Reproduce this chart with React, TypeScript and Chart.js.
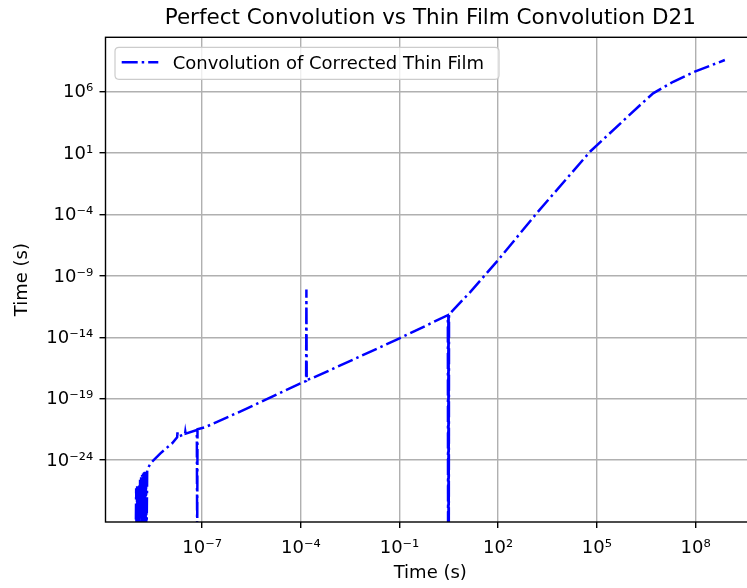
import React, { useEffect, useRef } from 'react';
import { Chart, registerables } from 'chart.js';

Chart.register(...registerables);

// ---- data ----
const xValues = [
  // noisy cluster near 1e-9
  9.55e-10, 9.9e-10, 1.02e-9, 1.06e-9, 1.1e-9, 1.13e-9, 1.17e-9, 1.22e-9, 1.26e-9, 1.3e-9, 1.35e-9, 1.4e-9,
  1.44e-9, 1.5e-9, 1.55e-9, 1.6e-9, 1.66e-9, 1.72e-9, 1.78e-9, 1.84e-9, 1.9e-9, 1.97e-9, 2.04e-9, 2.14e-9,
  // rising part with small hooks and the drop near 1e-7
  2.69e-9, 5.4e-9, 1.23e-8, 1.74e-8, 1.78e-8, 1.82e-8, 3.02e-8, 3.09e-8, 3.16e-8, 6.9e-8, 7.08e-8, 7.24e-8,
  // slow rise with the spike near 1.5e-4
  1.26e-7, 2.34e-6, 1e-4, 1.45e-4, 1.48e-4, 1.51e-4, 2.4e-4, 0.1,
  // noisy drop near 3 s
  2.95, 3.0, 3.05, 3.09, 3.12, 3.15, 3.2,
  // steep rise and bend
  14.1, 100, 1480, 6.17e4, 2.04e6, 5.13e6, 2.09e7, 9.5e7, 7.76e8,
];
const yValues = [
  1e-31, 5e-27, 1e-31, 8e-27, 1e-31, 6e-27, 1e-31, 1e-26, 1e-31, 2.5e-26, 1e-31, 4e-26,
  1e-31, 6e-26, 1e-31, 8e-26, 1e-31, 1e-25, 1e-31, 1.1e-25, 1e-31, 1.2e-25, 1e-31, 1.55e-25,
  5.4e-25, 3.5e-24, 2.3e-23, 7.1e-23, 1.8e-22, 7.9e-23, 1.26e-22, 2e-22, 1.4e-22, 2.75e-22, 1e-31, 3.2e-22,
  4.8e-22, 1.6e-20, 1.8e-18, 2.75e-18, 7.9e-11, 3.3e-18, 5e-18, 8.1e-15,
  6.3e-13, 1e-31, 6.4e-13, 1e-31, 6.6e-13, 1e-31, 7.1e-13,
  4.8e-11, 1.95e-8, 1.26e-4, 12.9, 7.9e4, 7.4e5, 6.46e6, 4.27e7, 3.8e8,
];
const xTickValues = [1e-7, 1e-4, 1e-1, 1e2, 1e5, 1e8];
const yTickValues = [1e-24, 1e-19, 1e-14, 1e-9, 1e-4, 1e1, 1e6];
const seriesLabel = 'Convolution of Corrected Thin Film';
const titleText = 'Perfect Convolution vs Thin Film Convolution D21';
const xAxisTitle = 'Time (s)';
const yAxisTitle = 'Time (s)';

const SUP: Record<string, string> = {
  '-': '\u207B', '0': '\u2070', '1': '\u00B9', '2': '\u00B2', '3': '\u00B3', '4': '\u2074',
  '5': '\u2075', '6': '\u2076', '7': '\u2077', '8': '\u2078', '9': '\u2079',
};
function powLabel(v: number): string {
  const e = Math.round(Math.log10(v));
  return '10' + String(e).split('').map((c) => SUP[c] || c).join('');
}

const LINE_DASH = [16, 4, 2.5, 4];

const framePlugin = {
  id: 'frameAndLegend',
  afterDatasetsDraw(chart: any) {
    const { ctx, chartArea: a } = chart;
    ctx.save();
    // spines
    ctx.strokeStyle = '#000';
    ctx.lineWidth = 1.4;
    ctx.setLineDash([]);
    ctx.strokeRect(a.left, a.top, a.right - a.left, a.bottom - a.top);

    // legend box inside the axes (upper left)
    const ds = chart.data.datasets[0];
    const bx = a.left + 9.5;
    const by = a.top + 10;
    const bw = 384;
    const bh = 32;
    const r = 4;
    ctx.beginPath();
    ctx.moveTo(bx + r, by);
    ctx.lineTo(bx + bw - r, by);
    ctx.quadraticCurveTo(bx + bw, by, bx + bw, by + r);
    ctx.lineTo(bx + bw, by + bh - r);
    ctx.quadraticCurveTo(bx + bw, by + bh, bx + bw - r, by + bh);
    ctx.lineTo(bx + r, by + bh);
    ctx.quadraticCurveTo(bx, by + bh, bx, by + bh - r);
    ctx.lineTo(bx, by + r);
    ctx.quadraticCurveTo(bx, by, bx + r, by);
    ctx.closePath();
    ctx.fillStyle = 'rgba(255,255,255,0.8)';
    ctx.fill();
    ctx.strokeStyle = '#cccccc';
    ctx.lineWidth = 1.2;
    ctx.stroke();

    ctx.beginPath();
    ctx.setLineDash(ds.borderDash);
    ctx.lineDashOffset = 0;
    ctx.strokeStyle = ds.borderColor;
    ctx.lineWidth = ds.borderWidth;
    ctx.moveTo(bx + 6.7, by + 15);
    ctx.lineTo(bx + 43.3, by + 15);
    ctx.stroke();
    ctx.setLineDash([]);

    ctx.fillStyle = '#000';
    ctx.font = '18px "DejaVu Sans"';
    ctx.textAlign = 'left';
    ctx.textBaseline = 'alphabetic';
    ctx.fillText(ds.label, bx + 57.7, by + 21.7);
    ctx.restore();
  },
};

export default function App() {
  const ref = useRef<HTMLCanvasElement | null>(null);

  useEffect(() => {
    if (!ref.current) return;
    Chart.defaults.font.family = '"DejaVu Sans"';
    Chart.defaults.color = '#000';
    const chart = new Chart(ref.current, {
      type: 'line',
      data: {
        datasets: [
          {
            label: seriesLabel,
            data: xValues.map((x, i) => ({ x, y: yValues[i] })),
            borderColor: '#0000ff',
            borderWidth: 2.5,
            borderDash: LINE_DASH,
            pointRadius: 0,
            pointHoverRadius: 0,
            fill: false,
            tension: 0,
            clip: 0,
          } as any,
        ],
      },
      options: {
        animation: false,
        responsive: false,
        devicePixelRatio: 1,
        events: [],
        layout: { padding: { left: 0, right: 5, top: 0, bottom: 0 } },
        plugins: {
          legend: { display: false },
          tooltip: { enabled: false },
          title: {
            display: true,
            text: titleText,
            fullSize: false,
            color: '#000',
            font: { size: 21.5, weight: 'normal' },
            padding: { top: 5.7, bottom: 5.8 },
          },
        },
        scales: {
          x: {
            type: 'logarithmic',
            min: 1.156e-10,
            max: 6.41e9,
            afterBuildTicks: (s: any) => {
              s.ticks = xTickValues.map((v) => ({ value: v }));
            },
            afterFit: (s: any) => {
              s.height = 66;
            },
            ticks: {
              autoSkip: false,
              maxRotation: 0,
              minRotation: 0,
              padding: 9.7,
              color: '#000',
              font: { size: 18 },
              callback: (v: any) => powLabel(Number(v)),
            },
            grid: {
              color: '#b0b0b0',
              lineWidth: 1.4,
              drawTicks: true,
              tickColor: '#000',
              tickLength: 6,
              tickWidth: 1.4,
            },
            border: { display: false },
            title: {
              display: true,
              text: xAxisTitle,
              color: '#000',
              font: { size: 18 },
              padding: { top: 0, bottom: 3.4 },
            },
          } as any,
          y: {
            type: 'logarithmic',
            min: 8.9e-30,
            max: 2.7e10,
            afterBuildTicks: (s: any) => {
              s.ticks = yTickValues.map((v) => ({ value: v }));
            },
            afterFit: (s: any) => {
              s.width = 105.5;
            },
            ticks: {
              autoSkip: false,
              padding: 6.3,
              labelOffset: 1,
              color: '#000',
              font: { size: 18 },
              callback: (v: any) => powLabel(Number(v)),
            },
            grid: {
              color: '#b0b0b0',
              lineWidth: 1.4,
              drawTicks: true,
              tickColor: '#000',
              tickLength: 6,
              tickWidth: 1.4,
            },
            border: { display: false },
            title: {
              display: true,
              text: yAxisTitle,
              color: '#000',
              font: { size: 18 },
              padding: { top: 12, bottom: 0 },
            },
          } as any,
        },
      },
      plugins: [framePlugin],
    });
    return () => chart.destroy();
  }, []);

  return (
    <div
      style={{
        position: 'fixed',
        left: 0,
        top: 0,
        width: 747,
        height: 588,
        overflow: 'hidden',
        background: '#fff',
      }}
    >
      <canvas ref={ref} width={760} height={588} style={{ display: 'block' }} />
    </div>
  );
}
